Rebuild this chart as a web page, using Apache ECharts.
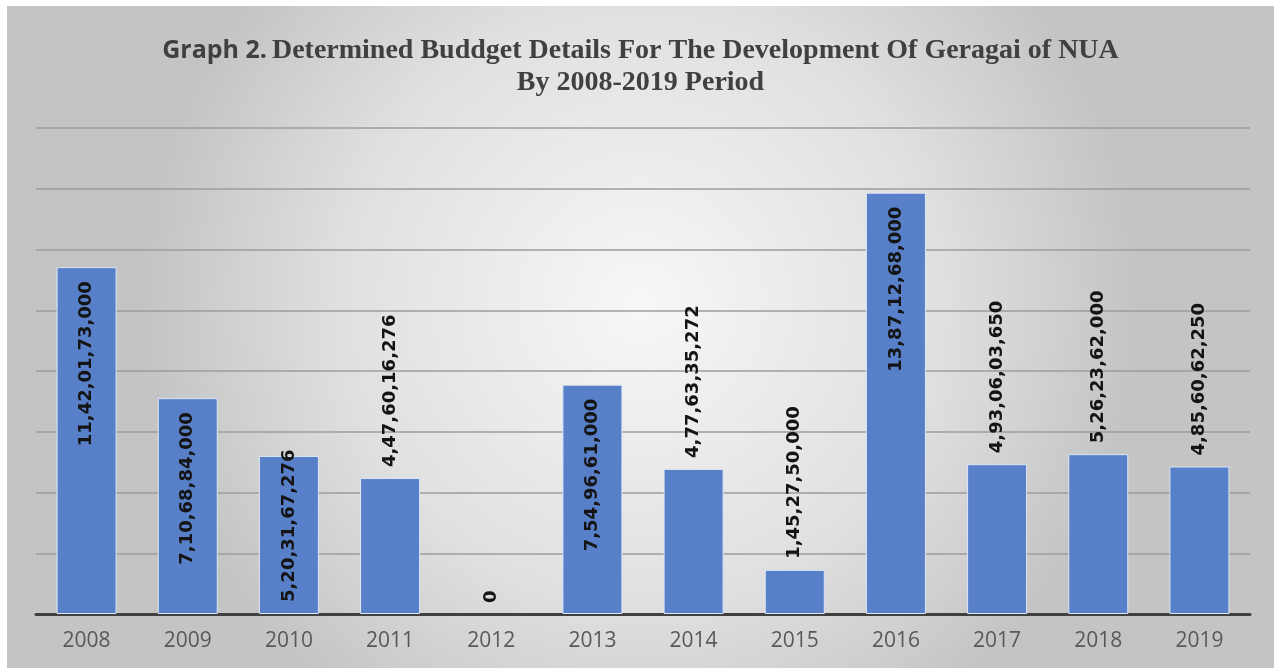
<!DOCTYPE html>
<html>
<head>
<meta charset="utf-8">
<script src="https://cdn.jsdelivr.net/npm/echarts@6/dist/echarts.min.js"></script>
<style>
  html, body { margin: 0; padding: 0; background: #ffffff; width: 1274px; height: 668px; overflow: hidden; }
  #chart { position: absolute; left: 7px; top: 6px; width: 1267px; height: 662px; }
</style>
</head>
<body>
<div id="chart"></div>
<script>
// ---- data ----
const years = ['2008', '2009', '2010', '2011', '2012', '2013', '2014', '2015', '2016', '2017', '2018', '2019'];
const budget = [11420173000, 7106884000, 5203167276, 4476016276, 0, 7549661000, 4776335272, 1452750000, 13871268000, 4930603650, 5262362000, 4856062250];
const titleLine1a = 'Graph 2.';
const titleLine1b = 'Determined Buddget Details For The Development Of Geragai of NUA';
const titleLine2 = 'By 2008-2019 Period';

// Indian digit grouping (e.g. 11,42,01,73,000)
function formatIN(n) {
  const s = String(n);
  if (s.length <= 3) return s;
  const last3 = s.slice(-3);
  let rest = s.slice(0, -3);
  const parts = [];
  while (rest.length > 2) { parts.unshift(rest.slice(-2)); rest = rest.slice(0, -2); }
  if (rest.length) parts.unshift(rest);
  return parts.join(',') + ',' + last3;
}

// label placement per category, as in the original picture
const insideTopYears = ['2008', '2009', '2013', '2016'];
const insideBottomYears = ['2010'];

function labelFor(year) {
  if (insideTopYears.includes(year)) {
    return { position: 'insideTop', distance: 14, rotate: 90, align: 'right', verticalAlign: 'middle' };
  }
  if (insideBottomYears.includes(year)) {
    return { position: 'insideBottom', distance: 12, rotate: 90, align: 'left', verticalAlign: 'middle' };
  }
  return { position: 'top', distance: 11, rotate: 90, align: 'left', verticalAlign: 'middle' };
}

const chart = echarts.init(document.getElementById('chart'), null, { renderer: 'canvas' });

const option = {
  backgroundColor: {
    type: 'radial', x: 0.5, y: 0.45, r: 0.75,
    colorStops: [
      { offset: 0, color: '#f7f7f7' },
      { offset: 0.6, color: '#e0e0e0' },
      { offset: 1, color: '#c4c4c4' }
    ]
  },
  animation: false,
  title: {
    text: '{a|' + titleLine1a + '} {b|' + titleLine1b + '}\n{b|' + titleLine2 + '}',
    left: 'center',
    top: 24,
    textStyle: {
      rich: {
        a: { fontFamily: 'Open Sans', fontWeight: 'bold', fontSize: 25, color: '#404040', lineHeight: 32 },
        b: { fontFamily: 'Liberation Serif', fontWeight: 'bold', fontSize: 28, color: '#404040', lineHeight: 32 }
      }
    }
  },
  grid: { left: 29, right: 24, top: 122, bottom: 54, containLabel: false },
  xAxis: {
    type: 'category',
    data: years,
    axisLine: { show: true, lineStyle: { color: '#404040', width: 3 } },
    axisTick: { show: false },
    axisLabel: { color: '#595959', fontFamily: 'Open Sans', fontSize: 21, margin: 17 }
  },
  yAxis: {
    type: 'value',
    min: 0, max: 16000000000, interval: 2000000000,
    axisLine: { show: false },
    axisTick: { show: false },
    axisLabel: { show: false },
    splitLine: { lineStyle: { color: '#9c9c9c', width: 1.5 } }
  },
  series: [{
    type: 'bar',
    barWidth: 60,
    data: budget.map((v, i) => ({
      value: v,
      label: labelFor(years[i]),
      itemStyle: v === 0 ? { borderWidth: 0 } : undefined
    })),
    itemStyle: { color: '#5880c8', borderColor: '#dce6f6', borderWidth: 1 },
    label: {
      show: true,
      formatter: p => formatIN(p.value),
      fontFamily: 'DejaVu Sans',
      fontWeight: 'bold',
      fontSize: 18,
      color: '#141414'
    }
  }]
};

chart.setOption(option);
</script>
</body>
</html>
